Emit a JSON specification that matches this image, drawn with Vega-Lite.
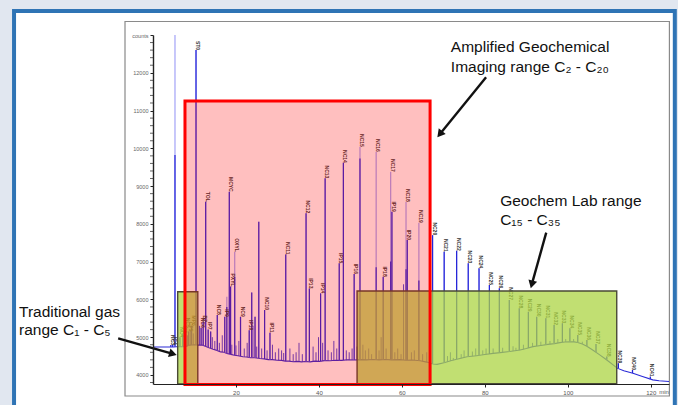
{
"$schema":"https://vega.github.io/schema/vega-lite/v6.json",
"width":516,"height":349,
"autosize":{"type":"none"},
"padding":{"left":153,"top":35,"right":9,"bottom":21},
"background":"#e1e7f0",
"config":{"view":{"stroke":null},"axis":{"grid":false}},
"datasets":{
"frames":[{"part":"panel","t":-33.5,"t2":125.8,"v":13635,"v2":2807},{"part":"frame","t":-6.75,"t2":124.5,"v":13357,"v2":3442}],
"baseline":[{"t":0,"v":4740},{"t":5.0,"v":4740},{"t":5.6,"v":4745},{"t":7.7,"v":4748},{"t":8.9,"v":4790},{"t":10.0,"v":4800},{"t":10.9,"v":4790},{"t":11.8,"v":4795},{"t":12.6,"v":4760},{"t":13.5,"v":4720},{"t":14.5,"v":4680},{"t":15.4,"v":4650},{"t":16.3,"v":4610},{"t":17.1,"v":4600},{"t":17.8,"v":4570},{"t":18.8,"v":4545},{"t":19.6,"v":4520},{"t":20.5,"v":4510},{"t":21.7,"v":4480},{"t":22.6,"v":4475},{"t":23.5,"v":4455},{"t":24.5,"v":4455},{"t":25.8,"v":4435},{"t":26.8,"v":4425},{"t":27.8,"v":4405},{"t":28.8,"v":4405},{"t":29.9,"v":4390},{"t":31.0,"v":4385},{"t":31.9,"v":4365},{"t":32.8,"v":4365},{"t":33.8,"v":4350},{"t":34.8,"v":4360},{"t":35.8,"v":4345},{"t":36.8,"v":4355},{"t":37.9,"v":4345},{"t":39.0,"v":4365},{"t":40.2,"v":4360},{"t":41.3,"v":4378},{"t":42.7,"v":4375},{"t":44.0,"v":4390},{"t":45.5,"v":4385},{"t":47.0,"v":4400},{"t":48.5,"v":4395},{"t":49.9,"v":4405},{"t":51.5,"v":4400},{"t":53.0,"v":4410},{"t":54.5,"v":4400},{"t":56.0,"v":4410},{"t":57.5,"v":4400},{"t":59.6,"v":4405},{"t":61.0,"v":4390},{"t":62.5,"v":4395},{"t":64.4,"v":4375},{"t":66.0,"v":4340},{"t":67.5,"v":4290},{"t":68.5,"v":4280},{"t":70.4,"v":4330},{"t":72.0,"v":4380},{"t":73.5,"v":4420},{"t":75.7,"v":4480},{"t":78.0,"v":4510},{"t":80.0,"v":4540},{"t":82.0,"v":4570},{"t":83.7,"v":4590},{"t":86.0,"v":4620},{"t":88.5,"v":4660},{"t":90.0,"v":4700},{"t":91.6,"v":4750},{"t":93.5,"v":4780},{"t":95.2,"v":4810},{"t":96.8,"v":4830},{"t":98.1,"v":4855},{"t":99.3,"v":4870},{"t":100.5,"v":4880},{"t":101.5,"v":4875},{"t":102.4,"v":4860},{"t":103.5,"v":4820},{"t":104.6,"v":4760},{"t":106.0,"v":4660},{"t":107.7,"v":4530},{"t":109.0,"v":4430},{"t":110.2,"v":4330},{"t":111.0,"v":4260},{"t":111.9,"v":4180},{"t":113.5,"v":4110},{"t":115.7,"v":4045},{"t":118.0,"v":3960},{"t":120.5,"v":3870},{"t":122.0,"v":3845},{"t":124.4,"v":3825}],
"peaks":[
{"t":4.3,"base":4740,"v":4790,"dark":4790,"label":"NC3"},
{"t":4.75,"base":4740,"v":4800,"dark":4800,"label":"IC4"},
{"t":5.3,"base":4740,"v":13000,"dark":9820,"label":""},
{"t":6.5,"base":4745,"v":5000,"dark":5000,"label":"NC4"},
{"t":7.2,"base":4746,"v":5100,"dark":5100,"label":"IC5"},
{"t":7.9,"base":4750,"v":5250,"dark":5250,"label":"NC5"},
{"t":8.6,"base":4780,"v":5150,"dark":5150,"label":"CP5"},
{"t":9.3,"base":4795,"v":5300,"dark":5300,"label":"MP6"},
{"t":10.37,"base":4795,"v":12600,"dark":12600,"label":"ST0"},
{"t":11.6,"base":4795,"v":5250,"dark":5250,"label":"NC6"},
{"t":12.1,"base":4780,"v":5400,"dark":5400,"label":"BZ"},
{"t":12.7,"base":4760,"v":8585,"dark":8585,"label":"TOL"},
{"t":13.3,"base":4730,"v":5200,"dark":5200,"label":"IP7"},
{"t":13.9,"base":4715,"v":5150,"dark":5150,"label":""},
{"t":15.5,"base":4645,"v":5590,"dark":5590,"label":"NC8"},
{"t":17.3,"base":4595,"v":5540,"dark":5540,"label":"IP9"},
{"t":17.8,"base":4570,"v":6070,"dark":5800,"label":""},
{"t":18.4,"base":4555,"v":8850,"dark":8850,"label":"MCYC"},
{"t":18.7,"base":4548,"v":6340,"dark":6340,"label":"PXYL"},
{"t":19.7,"base":4520,"v":7260,"dark":6600,"label":"OXYL"},
{"t":21.1,"base":4490,"v":5540,"dark":5540,"label":"NC9"},
{"t":23.2,"base":4460,"v":5180,"dark":5180,"label":"IP10"},
{"t":23.8,"base":4455,"v":6180,"dark":6180,"label":""},
{"t":24.6,"base":4455,"v":5540,"dark":5540,"label":""},
{"t":25.5,"base":4440,"v":8057,"dark":8057,"label":""},
{"t":26.9,"base":4422,"v":5720,"dark":5720,"label":"NC10"},
{"t":28.2,"base":4405,"v":5120,"dark":5120,"label":"IP11"},
{"t":32.0,"base":4365,"v":7190,"dark":7190,"label":"NC11"},
{"t":36.9,"base":4355,"v":8280,"dark":8280,"label":"NC12"},
{"t":37.7,"base":4347,"v":6290,"dark":6290,"label":"IP13"},
{"t":40.4,"base":4362,"v":6160,"dark":6160,"label":"IP14"},
{"t":41.5,"base":4378,"v":9205,"dark":9205,"label":"NC13"},
{"t":44.9,"base":4387,"v":6955,"dark":6955,"label":"IP15"},
{"t":45.9,"base":4387,"v":9616,"dark":9616,"label":"NC14"},
{"t":48.5,"base":4395,"v":6672,"dark":6672,"label":"IP16"},
{"t":49.9,"base":4405,"v":10040,"dark":9731,"label":"NC15"},
{"t":53.8,"base":4405,"v":9907,"dark":6848,"label":"NC16"},
{"t":55.5,"base":4405,"v":6601,"dark":6601,"label":"IP18"},
{"t":57.3,"base":4402,"v":9380,"dark":7000,"label":"NC17"},
{"t":57.6,"base":4402,"v":8321,"dark":8321,"label":"IP19"},
{"t":61.0,"base":4390,"v":8585,"dark":6800,"label":"NC18"},
{"t":61.3,"base":4392,"v":7572,"dark":7572,"label":"IP20"},
{"t":64.1,"base":4378,"v":8030,"dark":6500,"label":"NC19"},
{"t":67.4,"base":4295,"v":7700,"dark":7700,"label":"NC20"},
{"t":70.2,"base":4325,"v":7263,"dark":7263,"label":"NC21"},
{"t":73.2,"base":4412,"v":7289,"dark":7289,"label":"NC22"},
{"t":76.0,"base":4484,"v":6955,"dark":6955,"label":"NC23"},
{"t":78.6,"base":4518,"v":6822,"dark":6822,"label":"NC24"},
{"t":81.1,"base":4555,"v":6381,"dark":6381,"label":"NC25"},
{"t":83.5,"base":4588,"v":6293,"dark":6293,"label":"NC26"},
{"t":85.9,"base":4620,"v":5985,"dark":5985,"label":"NC27"},
{"t":88.3,"base":4655,"v":5765,"dark":5765,"label":"NC28"},
{"t":90.5,"base":4715,"v":5675,"dark":5675,"label":"NC29"},
{"t":92.5,"base":4765,"v":5543,"dark":5543,"label":"NC30"},
{"t":94.7,"base":4800,"v":5500,"dark":5500,"label":"NC31"},
{"t":96.7,"base":4828,"v":5323,"dark":5323,"label":"NC32"},
{"t":98.7,"base":4862,"v":5367,"dark":5367,"label":"NC33"},
{"t":100.5,"base":4880,"v":5235,"dark":5235,"label":"NC34"},
{"t":102.4,"base":4860,"v":5058,"dark":5058,"label":"NC35"},
{"t":104.6,"base":4760,"v":4926,"dark":4926,"label":"NC36"},
{"t":106.8,"base":4600,"v":4820,"dark":4820,"label":"NC37"},
{"t":109.4,"base":4400,"v":4485,"dark":4485,"label":"NC38"},
{"t":112.2,"base":4170,"v":4310,"dark":4310,"label":"NC39"},
{"t":115.6,"base":4050,"v":4132,"dark":4132,"label":"NC40"},
{"t":119.9,"base":3885,"v":3955,"dark":3955,"label":"NC41"}],
"grass":[{"t":8.3,"base":4760,"v":5050},{"t":9.0,"base":4790,"v":5200},{"t":9.7,"base":4798,"v":5100},{"t":11.2,"base":4792,"v":5300},{"t":14.3,"base":4690,"v":5000},{"t":14.9,"base":4665,"v":4900},{"t":16.0,"base":4625,"v":4850},{"t":16.7,"base":4605,"v":5050},{"t":19.0,"base":4540,"v":4800},{"t":20.0,"base":4515,"v":4780},{"t":20.7,"base":4505,"v":4900},{"t":22.0,"base":4478,"v":4700},{"t":22.7,"base":4472,"v":4850},{"t":24.1,"base":4455,"v":5300},{"t":25.0,"base":4450,"v":4750},{"t":26.2,"base":4430,"v":4700},{"t":27.5,"base":4410,"v":4650},{"t":28.8,"base":4405,"v":4800},{"t":29.5,"base":4395,"v":4600},{"t":30.3,"base":4388,"v":4700},{"t":31.0,"base":4385,"v":4650},{"t":31.5,"base":4375,"v":4580},{"t":33.0,"base":4362,"v":4700},{"t":33.8,"base":4350,"v":4550},{"t":34.5,"base":4357,"v":4600},{"t":35.2,"base":4352,"v":4850},{"t":36.0,"base":4347,"v":4550},{"t":38.6,"base":4358,"v":4750},{"t":39.3,"base":4364,"v":4600},{"t":39.9,"base":4362,"v":5000},{"t":40.9,"base":4370,"v":4850},{"t":42.2,"base":4376,"v":4650},{"t":43.0,"base":4380,"v":4600},{"t":43.6,"base":4385,"v":4900},{"t":44.3,"base":4389,"v":4700},{"t":46.6,"base":4390,"v":4650},{"t":47.3,"base":4399,"v":4600},{"t":48.0,"base":4397,"v":4700},{"t":49.2,"base":4400,"v":4750},{"t":50.6,"base":4403,"v":4800},{"t":51.2,"base":4401,"v":4650},{"t":52.0,"base":4404,"v":4700},{"t":52.7,"base":4408,"v":4550},{"t":54.5,"base":4400,"v":4650},{"t":55.0,"base":4403,"v":5000},{"t":56.2,"base":4409,"v":4700},{"t":58.3,"base":4402,"v":4600},{"t":59.0,"base":4403,"v":4700},{"t":59.8,"base":4403,"v":4550},{"t":60.4,"base":4398,"v":6400},{"t":62.3,"base":4394,"v":4600},{"t":63.0,"base":4390,"v":4650},{"t":65.0,"base":4365,"v":4550},{"t":66.0,"base":4340,"v":4600},{"t":71.0,"base":4350,"v":4500},{"t":71.7,"base":4370,"v":4600},{"t":72.4,"base":4390,"v":4450},{"t":74.3,"base":4440,"v":4550},{"t":75.0,"base":4460,"v":4650},{"t":77.0,"base":4497,"v":4620},{"t":77.8,"base":4507,"v":4700},{"t":79.5,"base":4532,"v":4650},{"t":80.3,"base":4544,"v":4700},{"t":82.0,"base":4570,"v":4700},{"t":84.3,"base":4598,"v":4720},{"t":86.8,"base":4632,"v":4760},{"t":87.5,"base":4644,"v":4720},{"t":89.3,"base":4680,"v":4800},{"t":91.5,"base":4745,"v":4850},{"t":93.5,"base":4780,"v":4880},{"t":95.7,"base":4816,"v":4900},{"t":97.6,"base":4845,"v":4950},{"t":99.5,"base":4872,"v":4950},{"t":101.4,"base":4876,"v":4950},{"t":103.5,"base":4820,"v":4880}],
"minor":[{"t":0,"v":3800},{"t":0,"v":4200},{"t":0,"v":4400},{"t":0,"v":4600},{"t":0,"v":4800},{"t":0,"v":5200},{"t":0,"v":5400},{"t":0,"v":5600},{"t":0,"v":5800},{"t":0,"v":6200},{"t":0,"v":6400},{"t":0,"v":6600},{"t":0,"v":6800},{"t":0,"v":7200},{"t":0,"v":7400},{"t":0,"v":7600},{"t":0,"v":7800},{"t":0,"v":8200},{"t":0,"v":8400},{"t":0,"v":8600},{"t":0,"v":8800},{"t":0,"v":9200},{"t":0,"v":9400},{"t":0,"v":9600},{"t":0,"v":9800},{"t":0,"v":10200},{"t":0,"v":10400},{"t":0,"v":10600},{"t":0,"v":10800},{"t":0,"v":11200},{"t":0,"v":11400},{"t":0,"v":11600},{"t":0,"v":11800},{"t":0,"v":12200},{"t":0,"v":12400},{"t":0,"v":12600},{"t":0,"v":12800}],
"greenboxes":[{"range":"Traditional gas","t":5.95,"t2":10.8,"v":6204,"v2":3760},{"range":"Geochem Lab","t":49.2,"t2":111.8,"v":6222,"v2":3770}],
"redbox":[{"range":"Amplified Geochemical Imaging","t":7.71,"t2":66.8,"v":11253,"v2":3750}],
"notes":[{"t":71.8,"v":12690,"text":"Amplified Geochemical"},{"t":71.8,"v":12161,"text":"Imaging range C₂ - C₂₀"},{"t":83.7,"v":8605,"text":"Geochem Lab range"},{"t":83.7,"v":8102,"text":"C₁₅ - C₃₅"},{"t":-32.3,"v":5658,"text":"Traditional gas"},{"t":-32.3,"v":5190,"text":"range C₁ - C₅"}],
"arrows":[{"id":1,"t":-8.4,"v":4970,"t2":4.81,"v2":4559},{"id":2,"t":80.3,"v":11880,"t2":69.14,"v2":10374},{"id":3,"t":94.8,"v":7766,"t2":91.32,"v2":6397}],
"heads":[{"id":1,"t":4.81,"v":4559},{"id":2,"t":69.14,"v":10374},{"id":3,"t":91.32,"v":6397}]
},
"encoding":{
 "x":{"field":"t","type":"quantitative","scale":{"domain":[0,124.4],"nice":false,"zero":false},
  "axis":{"title":null,"values":[20,40,60,80,100,120],"format":"d","labelOverlap":false,"zindex":1,"labelFontSize":6,"labelColor":"#555555","labelFont":"Liberation Sans","tickSize":3,"tickColor":"#222222","domainColor":"#222222","domainWidth":1.2,"labelPadding":2,"labelAngle":0,"grid":false}},
 "y":{"field":"v","type":"quantitative","scale":{"domain":[3760,13000],"nice":false,"zero":false},
  "axis":{"title":null,"values":[4000,5000,6000,7000,8000,9000,10000,11000,12000,13000],"format":"d","labelOverlap":false,"labelExpr":"datum.value == 13000 ? 'counts' : datum.label","zindex":1,"labelFontSize":5.5,"labelColor":"#666666","labelFont":"Liberation Sans","tickSize":3,"tickColor":"#222222","domainColor":"#222222","domainWidth":1.4,"labelPadding":2,"grid":false}}
},
"layer":[
{"data":{"name":"frames"},"transform":[{"filter":"datum.part=='panel'"}],
 "mark":{"type":"rect","fill":"#ffffff","stroke":"#2f74b5","strokeWidth":4},
 "encoding":{"x2":{"field":"t2"},"y2":{"field":"v2"}}},
{"data":{"name":"frames"},"transform":[{"filter":"datum.part=='frame'"}],
 "mark":{"type":"rect","fill":"#ffffff","stroke":"#8a8a8a","strokeWidth":1.2},
 "encoding":{"x2":{"field":"t2"},"y2":{"field":"v2"}}},
{"data":{"name":"minor"},"mark":{"type":"tick","orient":"horizontal","color":"#222222","size":3,"thickness":1,"xOffset":-1.5}},
{"data":{"name":"baseline"},"mark":{"type":"line","color":"#2a2ad6","strokeWidth":1.1}},
{"data":{"name":"grass"},"mark":{"type":"rule","color":"#2a2ad6","strokeWidth":1,"opacity":0.85},
 "encoding":{"y2":{"field":"base"}}},
{"data":{"name":"peaks"},"mark":{"type":"rule","color":"#a3a3f7","strokeWidth":1.2},
 "encoding":{"y2":{"field":"base"}}},
{"data":{"name":"peaks"},"mark":{"type":"rule","color":"#2323d8","strokeWidth":1.2},
 "encoding":{"y":{"field":"dark","type":"quantitative","axis":{"title":null,"values":[4000,5000,6000,7000,8000,9000,10000,11000,12000,13000],"format":"d","labelOverlap":false,"labelExpr":"datum.value == 13000 ? 'counts' : datum.label","zindex":1,"labelFontSize":5.5,"labelColor":"#666666","labelFont":"Liberation Sans","tickSize":3,"tickColor":"#222222","domainColor":"#222222","domainWidth":1.4,"labelPadding":2,"grid":false}},"y2":{"field":"base"}}},
{"data":{"name":"peaks"},"transform":[{"filter":"datum.label != ''"}],
 "mark":{"type":"text","angle":90,"align":"right","baseline":"middle","dy":-2,"fontSize":5,"fontWeight":"bold","font":"Liberation Sans","color":"#333333"},
 "encoding":{"text":{"field":"label"}}},
{"data":{"name":"greenboxes"},"mark":{"type":"rect","fill":"#acd443","fillOpacity":0.75,"stroke":"#4a4a36","strokeWidth":1.4},
 "encoding":{"x2":{"field":"t2"},"y2":{"field":"v2"}}},
{"data":{"name":"redbox"},"mark":{"type":"rect","fill":"#ff0000","fillOpacity":0.25,"stroke":"#ff0000","strokeWidth":3},
 "encoding":{"x2":{"field":"t2"},"y2":{"field":"v2"}}},
{"data":{"name":"arrows"},"mark":{"type":"rule","color":"#111111","strokeWidth":2.4},
 "encoding":{"x2":{"field":"t2"},"y2":{"field":"v2"}}},
{"data":{"name":"heads"},"transform":[{"filter":"datum.id == 1"}],"mark":{"type":"point","shape":"triangle-up","angle":106,"size":80,"filled":true,"color":"#111111","opacity":1}},
{"data":{"name":"heads"},"transform":[{"filter":"datum.id == 2"}],"mark":{"type":"point","shape":"triangle-up","angle":219,"size":80,"filled":true,"color":"#111111","opacity":1}},
{"data":{"name":"heads"},"transform":[{"filter":"datum.id == 3"}],"mark":{"type":"point","shape":"triangle-up","angle":195,"size":80,"filled":true,"color":"#111111","opacity":1}},
{"data":{"name":"notes"},"mark":{"type":"text","align":"left","baseline":"middle","fontSize":15.5,"font":"Liberation Sans","color":"#111111"},
 "encoding":{"text":{"field":"text"}}},
{"data":{"values":[{"t":123.2,"v":3548,"unit":"min"}]},"mark":{"type":"text","align":"center","baseline":"middle","fontSize":6,"font":"Liberation Sans","color":"#555555"},
 "encoding":{"text":{"field":"unit"}}}
]
}
